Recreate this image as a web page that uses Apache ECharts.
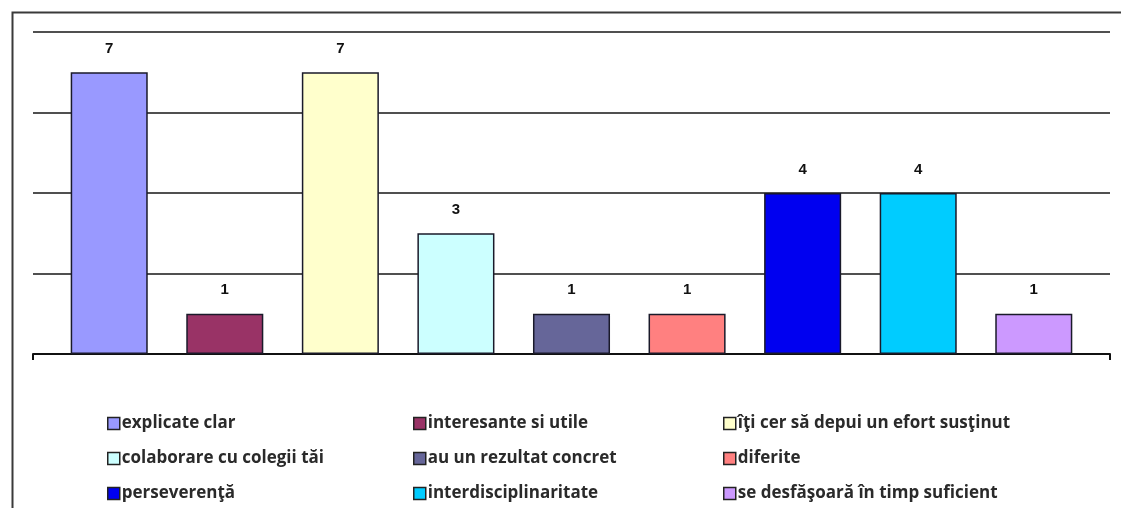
<!DOCTYPE html>
<html>
<head>
<meta charset="utf-8">
<script src="https://cdn.jsdelivr.net/npm/echarts@6/dist/echarts.min.js"></script>
<style>html,body{margin:0;padding:0;background:#fff;}#c{width:1121px;height:508px;}</style>
</head>
<body>
<div id="c"></div>
<script>
const seriesNames = [
  'explicate clar',
  'interesante si utile',
  'îţi cer să depui un efort susţinut',
  'colaborare cu colegii tăi',
  'au un rezultat concret',
  'diferite',
  'perseverenţă',
  'interdisciplinaritate',
  'se desfăşoară în timp suficient'
];
const seriesValues = [7, 1, 7, 3, 1, 1, 4, 4, 1];
const seriesColors = ['#9999FF', '#993366', '#FFFFCC', '#CCFFFF', '#666699', '#FF8080', '#0000F0', '#00CCFF', '#CC99FF'];
const categories = [''];
const yTicks = [0, 2, 4, 6, 8];

const chart = echarts.init(document.getElementById('c'), null, {renderer: 'canvas'});

const series = seriesNames.map((n, i) => ({
  name: n,
  type: 'bar',
  data: [seriesValues[i]],
  barGap: '50%',
  barCategoryGap: '7%',
  itemStyle: {color: seriesColors[i], borderColor: '#1a1a2a', borderWidth: 1.5},
  label: {
    show: true, position: 'top', distance: 16,
    color: '#111', fontFamily: 'Liberation Sans, Arial', fontWeight: 'bold', fontSize: 15
  }
}));

const colX = [102, 408, 718];
const legends = [0, 1, 2].map(c => ({
  orient: 'vertical',
  left: colX[c],
  top: 410,
  height: 120,
  itemWidth: 12,
  itemHeight: 12,
  itemGap: 18,
  icon: 'rect',
  data: [seriesNames[c], seriesNames[c + 3], seriesNames[c + 6]],
  itemStyle: {borderColor: '#222', borderWidth: 1.5},
  textStyle: {fontFamily: 'Open Sans', fontWeight: 'bold', fontSize: 17, color: '#2a2a2a', lineHeight: 16, padding: [0, 0, 0, -3]},
  selectedMode: false
}));

chart.setOption({
  animation: false,
  backgroundColor: '#fff',
  graphic: [{
    type: 'rect', left: 10, top: 10, z: 100, silent: true,
    shape: {width: 1200, height: 600},
    style: {fill: 'none', stroke: '#3a3a3a', lineWidth: 2}
  }],
  grid: {left: 33, right: 11, top: 32, bottom: 154},
  legend: legends,
  xAxis: {
    type: 'category', data: categories,
    axisLine: {show: true, lineStyle: {color: '#111', width: 2}},
    axisTick: {show: true, length: 6, lineStyle: {color: '#111', width: 2}},
    axisLabel: {show: false}
  },
  yAxis: {
    type: 'value', min: yTicks[0], max: yTicks[yTicks.length - 1], interval: yTicks[1] - yTicks[0],
    axisLine: {show: false}, axisTick: {show: false}, axisLabel: {show: false},
    splitLine: {show: true, lineStyle: {color: '#505050', width: 2}}
  },
  series: series
});
</script>
</body>
</html>
